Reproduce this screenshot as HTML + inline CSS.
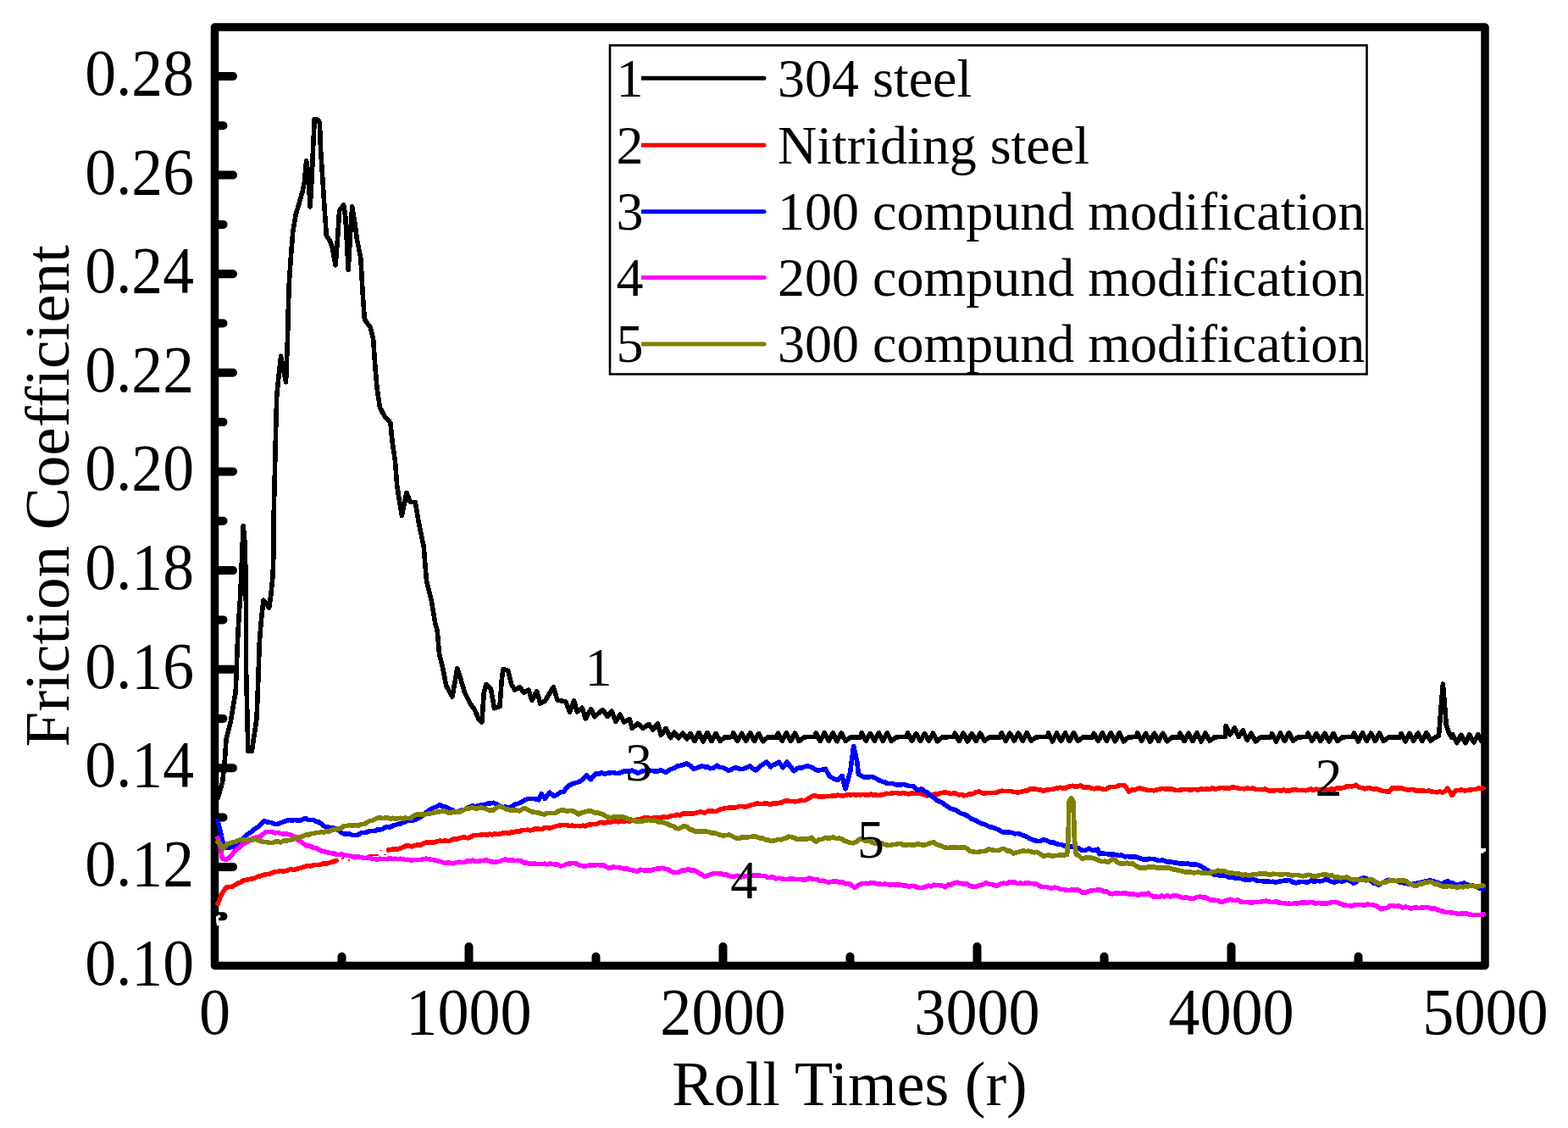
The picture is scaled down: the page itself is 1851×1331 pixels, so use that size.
<!DOCTYPE html>
<html><head><meta charset="utf-8"><title>Friction Coefficient vs Roll Times</title>
<style>html,body{margin:0;padding:0;background:#fff;} body{width:1851px;height:1331px;overflow:hidden;} svg{display:block;}</style>
</head><body>
<svg width="1851" height="1331" viewBox="0 0 1851 1331">
<rect x="0" y="0" width="1851" height="1331" fill="#fff"/>
<path d="M258.5,1022.9 H275 M258.5,906.3 H275 M258.5,789.7 H275 M258.5,673.1 H275 M258.5,556.4 H275 M258.5,439.8 H275 M258.5,323.2 H275 M258.5,206.6 H275 M258.5,90.0 H275 M258.5,1081.2 H263.5 M258.5,964.6 H263.5 M258.5,848.0 H263.5 M258.5,731.4 H263.5 M258.5,614.7 H263.5 M258.5,498.1 H263.5 M258.5,381.5 H263.5 M258.5,264.9 H263.5 M258.5,148.3 H263.5 M553.5,1134.5 V1117 M853.5,1134.5 V1117 M1153.5,1134.5 V1117 M1453.5,1134.5 V1117 M403.5,1134.5 V1128.8 M703.5,1134.5 V1128.8 M1003.5,1134.5 V1128.8 M1303.5,1134.5 V1128.8 M1603.5,1134.5 V1128.8" stroke="#000" stroke-width="10" stroke-linecap="round" fill="none"/>
<rect x="253.5" y="32" width="1499.5" height="1107.5" fill="none" stroke="#000" stroke-width="9.5" stroke-linejoin="round"/>
<g style="font-family:'Liberation Serif','Times New Roman',serif;font-size:75px" fill="#000"><text transform="translate(229,1161.5) scale(0.982,1.055)" text-anchor="end">0.10</text><text transform="translate(229,1044.9) scale(0.982,1.055)" text-anchor="end">0.12</text><text transform="translate(229,928.3) scale(0.982,1.055)" text-anchor="end">0.14</text><text transform="translate(229,811.7) scale(0.982,1.055)" text-anchor="end">0.16</text><text transform="translate(229,695.1) scale(0.982,1.055)" text-anchor="end">0.18</text><text transform="translate(229,578.4) scale(0.982,1.055)" text-anchor="end">0.20</text><text transform="translate(229,461.8) scale(0.982,1.055)" text-anchor="end">0.22</text><text transform="translate(229,345.2) scale(0.982,1.055)" text-anchor="end">0.24</text><text transform="translate(229,228.6) scale(0.982,1.055)" text-anchor="end">0.26</text><text transform="translate(229,112.0) scale(0.982,1.055)" text-anchor="end">0.28</text><text transform="translate(253.5,1219.8) scale(0.99,1.045)" text-anchor="middle">0</text><text transform="translate(553.5,1219.8) scale(0.99,1.045)" text-anchor="middle">1000</text><text transform="translate(853.5,1219.8) scale(0.99,1.045)" text-anchor="middle">2000</text><text transform="translate(1153.5,1219.8) scale(0.99,1.045)" text-anchor="middle">3000</text><text transform="translate(1453.5,1219.8) scale(0.99,1.045)" text-anchor="middle">4000</text><text transform="translate(1753.5,1219.8) scale(0.99,1.045)" text-anchor="middle">5000</text></g>
<text x="1003" y="1304.2" text-anchor="middle" style="font-family:'Liberation Serif','Times New Roman',serif;font-size:74px">Roll Times (r)</text>
<text transform="translate(81,585.3) rotate(-90)" x="0" y="0" text-anchor="middle" style="font-family:'Liberation Serif','Times New Roman',serif;font-size:75px">Friction Coefficient</text>
<path d="M257.2,941.2 L262.6,923.1 L265.0,902.0 L267.0,873.0 L272.5,850.2 L275.9,829.9 L278.2,816.4 L279.3,787.0 L280.4,757.8 L281.6,735.2 L283.8,701.4 L285.6,656.3 L287.2,620.3 L289.4,645.0 L290.1,690.2 L290.6,735.2 L290.6,791.6 L291.7,836.6 L292.8,886.2 L297.3,886.2 L303.0,847.9 L304.8,802.8 L306.3,757.8 L308.1,735.2 L310.9,708.2 L313.1,710.4 L317.6,717.2 L319.9,701.4 L322.1,678.9 L323.2,645.0 L323.3,603.0 L324.4,557.8 L325.5,512.7 L326.7,467.6 L328.9,445.1 L331.6,420.3 L337.5,450.7 L339.5,400.0 L340.2,368.0 L341.3,334.2 L343.6,300.4 L345.8,273.3 L349.2,253.0 L352.6,241.8 L357.1,226.0 L359.4,214.7 L361.6,189.9 L363.9,205.7 L366.1,244.0 L368.4,205.7 L369.5,176.4 L371.3,140.3 L375.1,141.4 L377.4,144.8 L378.5,176.4 L380.8,210.2 L383.0,244.0 L385.3,277.8 L389.8,284.6 L392.0,291.4 L396.1,312.8 L398.8,277.8 L400.6,248.5 L405.6,241.8 L407.8,255.3 L411.2,318.4 L413.5,277.8 L415.7,244.0 L419.1,264.3 L421.4,282.3 L425.9,304.9 L428.1,345.5 L430.4,377.0 L437.1,386.0 L440.6,399.9 L442.8,431.4 L445.1,458.5 L448.5,481.0 L454.1,491.1 L460.9,499.0 L463.1,521.6 L466.5,544.1 L468.7,573.4 L474.4,608.3 L480.0,581.3 L484.5,592.6 L490.2,592.6 L494.7,618.5 L497.5,632.0 L500.2,645.0 L503.5,685.6 L509.2,708.2 L513.7,735.2 L516.2,744.3 L518.6,771.9 L522.7,788.1 L526.7,809.1 L534.0,822.1 L539.7,788.9 L543.8,801.0 L548.6,817.2 L555.1,830.2 L560.8,838.3 L564.8,848.0 L568.9,852.1 L571.3,817.2 L573.7,807.5 L579.4,812.4 L583.5,835.9 L590.0,833.5 L592.4,801.0 L594.0,789.7 L599.7,791.3 L603.7,807.5 L607.8,814.0 L613.5,810.8 L618.3,817.2 L624.0,814.0 L628.0,826.2 L633.7,815.6 L637.8,830.2 L643.4,827.0 L653.2,810.8 L658.0,826.2 L667.7,827.8 L672.6,839.9 L677.5,827.0 L681.5,839.9 L687.2,835.1 L691.2,848.0 L697.7,836.7 L701.8,845.6 L711.5,837.5 L717.2,845.6 L722.0,839.1 L726.9,851.3 L731.8,843.2 L736.6,852.1 L743.1,848.8 L746.4,859.4 L752.8,853.7 L759.3,859.4 L765.8,854.5 L770.7,861.0 L776.3,853.7 L780.4,867.5 L786.1,859.4 L791.7,870.7 L796.0,864.0 L801.0,871.0 L806.0,865.0 L811.0,872.0 L815.0,865.5 L820.0,874.4 L825.0,864.6 L830.0,874.8 L835.0,864.7 L840.0,874.6 L845.0,865.5 L850.0,874.2 L856.0,869.8 L864.6,869.7 L865.6,864.7 L870.6,874.4 L875.6,865.4 L880.6,874.1 L885.6,864.8 L890.6,874.6 L895.6,865.5 L900.6,874.6 L906.6,869.8 L917.4,870.3 L918.4,865.2 L923.4,874.1 L928.4,865.0 L933.4,874.5 L938.4,865.2 L943.4,874.6 L949.4,869.8 L962.2,869.4 L963.2,865.0 L968.2,874.5 L973.2,864.7 L978.2,874.1 L983.2,864.8 L988.2,874.7 L993.2,865.0 L998.2,874.3 L1004.2,869.8 L1016.3,869.8 L1017.3,864.8 L1022.3,874.2 L1027.3,865.4 L1032.3,874.1 L1037.3,864.9 L1042.3,874.5 L1047.3,864.9 L1052.3,874.4 L1058.3,869.8 L1070.5,869.4 L1071.5,864.8 L1076.5,874.3 L1081.5,865.5 L1086.5,874.4 L1091.5,865.6 L1096.5,874.1 L1101.5,865.2 L1106.5,874.8 L1112.5,869.8 L1126.2,869.6 L1127.2,865.2 L1132.2,874.6 L1137.2,865.1 L1142.2,874.8 L1147.2,865.5 L1152.2,874.5 L1157.2,865.3 L1162.2,874.1 L1168.2,869.8 L1181.2,869.9 L1182.2,864.9 L1187.2,874.4 L1192.2,865.3 L1197.2,874.0 L1202.2,865.1 L1207.2,874.2 L1212.2,864.7 L1217.2,874.1 L1223.2,869.8 L1236.5,869.4 L1237.5,865.0 L1242.5,874.9 L1247.5,865.1 L1252.5,874.2 L1257.5,865.0 L1262.5,874.3 L1267.5,864.7 L1272.5,874.4 L1278.5,869.8 L1290.4,870.0 L1291.4,865.3 L1296.4,874.4 L1301.4,864.8 L1306.4,874.1 L1311.4,864.8 L1316.4,874.7 L1321.4,864.6 L1326.4,874.8 L1332.4,869.8 L1341.7,869.6 L1342.7,865.0 L1347.7,874.4 L1352.7,865.2 L1357.7,875.0 L1362.7,865.3 L1367.7,874.5 L1372.7,865.2 L1377.7,874.7 L1383.7,869.8 L1392.0,870.2 L1393.0,865.0 L1398.0,874.4 L1403.0,865.1 L1408.0,874.4 L1413.0,864.8 L1418.0,875.0 L1423.0,865.0 L1428.0,874.1 L1434.0,869.8 L1446.2,869.4 L1447.2,856.3 L1452.2,866.9 L1457.2,858.9 L1462.2,869.4 L1467.2,861.9 L1472.2,873.1 L1477.2,865.2 L1482.2,875.0 L1488.2,869.8 L1500.5,869.8 L1501.5,865.4 L1506.5,875.0 L1511.5,865.1 L1516.5,874.5 L1521.5,864.7 L1526.5,874.1 L1532.5,869.8 L1542.9,869.6 L1543.9,865.1 L1548.9,874.2 L1553.9,865.6 L1558.9,874.4 L1563.9,865.3 L1568.9,874.9 L1573.9,865.4 L1578.9,874.3 L1584.9,869.8 L1597.4,869.4 L1598.4,865.1 L1603.4,874.9 L1608.4,865.0 L1613.4,874.2 L1618.4,865.1 L1623.4,874.5 L1628.4,865.2 L1633.4,874.6 L1639.4,869.8 L1652.9,870.1 L1653.9,865.4 L1658.9,874.8 L1663.9,865.3 L1668.9,874.2 L1673.9,865.1 L1678.9,874.4 L1683.9,864.6 L1688.9,874.0 L1694.9,869.8 L1698.5,868.0 L1701.5,830.0 L1703.4,807.0 L1705.3,830.0 L1707.3,855.8 L1711.0,866.0 L1714.0,870.5 L1714.8,866.7 L1719.8,876.6 L1724.8,867.3 L1729.8,876.7 L1734.8,866.7 L1739.8,875.9 L1744.8,866.5 L1749.8,875.9 L1750.0,869.5" stroke="#000" stroke-width="5.6" fill="none" stroke-linejoin="round" stroke-linecap="round" shape-rendering="crispEdges"/>
<path d="M256.9,1066.6 L261.6,1055.1 L267.0,1047.0 L270.4,1046.6 L273.8,1046.4 L277.1,1044.5 L280.5,1042.3 L283.9,1041.4 L287.3,1038.9 L290.7,1038.2 L294.1,1037.6 L297.4,1037.0 L300.8,1036.2 L304.4,1034.2 L308.0,1033.6 L311.6,1032.2 L315.1,1031.6 L318.7,1031.1 L322.2,1029.6 L325.2,1028.3 L328.2,1028.3 L331.2,1027.4 L334.2,1028.4 L337.2,1027.7 L340.2,1026.8 L343.2,1025.3 L346.2,1026.6 L349.2,1025.9 L352.2,1024.7 L355.2,1024.0 L358.2,1023.2 L361.2,1022.1 L364.2,1021.4 L367.2,1022.0 L370.3,1020.6 L373.3,1020.4 L376.3,1020.6 L379.5,1019.6 L382.8,1018.6 L386.0,1019.0 L390.1,1017.7 L394.3,1016.5 L397.5,1015.5 M458.5,1003.0 L461.8,1002.3 L465.0,1002.0 L468.5,1002.2 L472.0,1001.2 L475.5,999.8 L479.1,998.2 L482.8,998.1 L486.4,998.9 L490.0,997.5 L493.2,996.8 L496.5,997.2 L499.7,995.4 L503.0,994.1 L506.2,994.3 L509.4,994.2 L512.7,994.2 L515.9,992.8 L519.2,992.1 L522.4,992.6 L525.6,991.8 L528.9,992.6 L532.1,991.7 L535.4,989.9 L538.6,990.2 L541.8,989.2 L545.1,988.4 L548.3,987.9 L551.6,988.9 L554.8,987.8 L558.8,985.9 L562.9,985.3 L565.9,985.3 L569.0,985.0 L572.0,984.4 L575.0,985.4 L578.1,984.1 L581.1,985.0 L584.2,983.8 L587.2,984.5 L590.5,983.9 L593.7,983.0 L597.0,982.6 L600.2,983.5 L603.5,982.1 L606.7,982.2 L610.0,980.7 L613.2,981.4 L616.5,979.6 L619.7,979.7 L622.9,979.2 L626.2,979.8 L629.4,979.0 L632.7,977.6 L635.9,978.1 L639.1,978.7 L642.4,976.8 L645.6,976.6 L648.9,977.3 L652.1,976.4 L656.2,974.9 L660.2,974.0 L663.2,973.7 L666.3,973.3 L669.3,973.5 L672.4,974.6 L675.4,974.0 L678.4,974.8 L681.5,974.4 L684.5,974.8 L687.7,974.2 L691.0,974.8 L694.2,973.3 L697.5,973.0 L700.7,972.4 L703.9,972.7 L707.2,970.8 L710.4,970.3 L713.7,971.3 L716.9,970.0 L720.1,970.5 L723.4,969.1 L726.6,968.8 L729.9,969.8 L733.1,969.1 L736.3,969.7 L739.6,967.9 L742.8,969.0 L746.1,968.6 L749.3,967.5 L752.5,967.2 L755.8,966.4 L759.0,965.3 L762.3,964.7 L765.5,965.1 L769.1,966.0 L772.8,964.4 L776.4,965.3 L780.0,964.8 L783.2,963.8 L786.5,964.5 L789.7,963.6 L793.0,962.5 L796.2,962.4 L799.4,961.3 L802.7,961.9 L805.9,960.1 L809.2,959.9 L812.4,960.0 L815.6,959.8 L818.9,960.0 L822.1,959.2 L825.4,958.2 L828.6,958.3 L831.8,959.0 L835.1,957.4 L838.3,956.9 L841.6,957.2 L844.8,957.5 L849.7,955.1 L852.9,954.6 L856.2,953.4 L859.4,953.3 L862.6,953.2 L865.9,953.2 L869.1,952.7 L872.3,951.5 L875.6,951.4 L878.8,952.0 L882.1,951.7 L885.3,950.2 L889.4,949.3 L893.5,947.8 L896.7,948.5 L900.0,948.6 L903.2,948.0 L906.5,948.2 L909.7,949.4 L912.9,947.6 L916.2,948.6 L919.4,947.4 L922.7,947.1 L925.9,945.4 L929.1,944.4 L932.4,945.7 L935.6,945.4 L938.9,945.9 L942.1,945.4 L945.9,944.2 L949.6,944.7 L953.4,942.9 L958.3,939.7 L961.3,938.8 L964.4,939.6 L967.4,939.9 L970.5,940.1 L973.5,939.7 L976.5,939.5 L979.6,939.6 L982.6,938.9 L985.6,939.5 L988.7,938.2 L991.7,938.7 L994.8,938.9 L997.8,938.6 L1000.8,937.5 L1003.9,938.1 L1006.9,937.3 L1009.9,938.1 L1013.0,937.6 L1016.0,937.8 L1019.0,937.5 L1022.1,938.0 L1025.1,938.1 L1028.2,937.2 L1031.2,938.1 L1034.2,938.1 L1037.3,938.5 L1040.3,937.9 L1043.3,937.3 L1046.4,936.3 L1049.4,936.7 L1052.5,936.1 L1055.5,935.6 L1059.1,935.7 L1062.8,936.7 L1066.4,935.4 L1070.0,936.5 L1073.2,937.0 L1076.5,935.6 L1079.7,936.7 L1083.0,936.5 L1086.2,936.5 L1090.2,937.2 L1094.3,938.9 L1097.5,938.6 L1100.8,937.6 L1104.0,937.1 L1107.3,937.1 L1110.5,935.6 L1113.5,935.3 L1116.6,935.0 L1119.6,935.8 L1122.7,936.8 L1125.7,936.1 L1128.7,936.2 L1131.8,937.9 L1134.8,937.3 L1138.1,938.9 L1141.7,938.2 L1145.2,936.8 L1148.8,936.7 L1152.3,934.6 L1155.9,934.0 L1159.2,935.6 L1162.4,936.5 L1165.4,935.4 L1168.4,935.4 L1171.4,935.7 L1174.5,935.4 L1177.5,934.9 L1180.5,933.4 L1183.5,933.2 L1186.7,933.7 L1190.0,933.5 L1193.2,933.4 L1196.5,934.5 L1199.7,934.8 L1202.9,934.8 L1206.2,934.2 L1209.4,933.2 L1212.6,933.0 L1215.9,931.0 L1219.1,930.8 L1222.3,930.7 L1225.6,931.9 L1228.8,932.2 L1232.1,933.2 L1235.3,932.0 L1238.6,931.7 L1241.8,931.5 L1245.1,930.6 L1248.3,930.0 L1251.3,929.3 L1254.4,930.1 L1257.4,930.0 L1260.4,928.7 L1263.5,927.6 L1266.5,927.2 L1269.6,928.6 L1272.6,927.5 L1275.8,927.1 L1279.1,928.9 L1282.3,929.1 L1285.6,929.1 L1288.8,930.0 L1292.0,930.9 L1295.3,929.7 L1298.5,930.2 L1301.8,931.2 L1305.0,931.6 L1309.0,929.0 L1313.1,928.3 L1316.8,928.6 L1320.4,927.0 L1324.0,926.4 L1327.7,926.7 L1332.6,934.0 L1335.8,932.1 L1339.0,932.3 L1342.3,930.9 L1345.5,930.0 L1348.8,930.9 L1352.0,931.5 L1355.2,932.4 L1358.5,932.4 L1362.3,932.8 L1366.2,931.7 L1370.0,930.8 L1373.2,930.4 L1376.4,931.2 L1379.6,930.8 L1382.8,930.7 L1386.0,931.9 L1389.2,932.6 L1392.4,932.4 L1395.6,931.6 L1398.9,931.6 L1402.1,931.6 L1405.4,932.2 L1408.6,931.6 L1411.8,931.7 L1415.1,931.8 L1418.3,930.9 L1421.6,931.5 L1424.8,930.8 L1428.0,931.5 L1431.3,929.7 L1434.5,931.2 L1437.8,930.6 L1441.0,929.3 L1444.2,929.7 L1447.5,929.9 L1450.7,930.3 L1454.0,929.1 L1457.2,929.2 L1460.2,929.5 L1463.3,930.4 L1466.3,930.4 L1469.4,930.9 L1472.4,930.1 L1475.5,930.7 L1478.5,930.0 L1481.6,931.2 L1484.6,931.6 L1487.6,931.5 L1490.7,931.8 L1493.7,931.0 L1496.8,932.6 L1499.8,933.0 L1502.9,933.2 L1505.9,932.4 L1509.1,932.5 L1512.4,933.0 L1515.6,932.0 L1518.9,933.2 L1522.1,933.1 L1525.3,932.1 L1528.6,931.6 L1531.8,932.3 L1535.1,932.5 L1538.3,932.4 L1541.4,932.8 L1544.5,932.1 L1547.6,931.1 L1550.7,932.6 L1553.8,931.0 L1556.9,932.3 L1560.0,931.6 L1563.0,930.9 L1566.0,931.3 L1569.0,932.2 L1572.0,930.9 L1575.0,931.6 L1578.0,930.1 L1581.0,930.1 L1584.0,929.8 L1587.0,929.2 L1590.0,927.8 L1593.5,927.7 L1597.1,927.7 L1600.6,926.3 L1605.1,929.3 L1608.3,929.6 L1611.5,930.9 L1614.7,929.5 L1618.0,930.1 L1621.2,931.0 L1624.4,930.9 L1627.6,931.6 L1630.6,932.8 L1633.6,933.4 L1636.6,933.9 L1639.6,934.6 L1644.1,929.3 L1647.1,930.3 L1650.1,930.1 L1653.1,929.9 L1656.2,930.4 L1659.2,931.6 L1662.2,932.1 L1665.2,931.6 L1668.2,931.3 L1671.2,932.9 L1674.2,933.4 L1677.2,932.8 L1680.2,933.1 L1683.4,933.6 L1686.6,933.1 L1689.8,934.1 L1693.1,934.4 L1696.3,934.9 L1699.5,934.0 L1702.7,935.3 L1705.8,933.6 L1708.8,930.1 L1714.0,938.3 L1719.3,932.3 L1722.7,932.3 L1726.0,932.1 L1729.4,932.9 L1732.8,932.3 L1735.9,932.1 L1738.9,931.5 L1742.0,931.6 L1745.1,930.0 L1748.1,930.5 L1751.2,930.1" stroke="#f00" stroke-width="5.6" fill="none" stroke-linejoin="round" stroke-linecap="round" shape-rendering="crispEdges"/>
<path d="M256.9,968.6 L260.0,980.0 L264.3,999.7 L267.7,1000.0 L271.1,1000.4 L274.2,999.1 L277.4,997.6 L280.5,995.7 L283.9,991.6 L287.3,988.9 L290.5,985.5 L293.6,983.7 L296.8,981.5 L300.9,978.0 L304.9,975.4 L308.2,972.6 L311.6,968.6 L315.8,970.0 L320.0,970.7 L325.8,972.7 L328.9,971.8 L332.1,970.6 L335.2,969.6 L338.4,968.2 L341.5,967.5 L344.7,968.1 L347.9,967.5 L351.0,968.2 L354.6,968.1 L358.2,966.4 L361.2,965.8 L364.2,967.6 L367.2,967.3 L370.2,967.3 L373.3,969.5 L376.3,970.0 L379.9,972.4 L383.5,975.4 L387.1,975.8 L390.7,977.3 L394.3,977.2 L397.3,978.1 L400.3,980.0 L403.3,982.7 L406.4,984.2 L409.6,984.1 L412.8,983.9 L415.9,985.4 L419.5,985.7 L423.1,984.9 L426.8,982.6 L430.4,982.7 L433.4,981.9 L436.4,980.7 L439.4,980.5 L442.4,980.5 L445.4,978.9 L448.4,979.0 L451.4,978.5 L454.4,976.3 L457.4,975.6 L460.5,976.0 L463.5,974.3 L466.5,973.6 L469.5,972.5 L472.5,972.0 L475.5,970.9 L478.5,969.8 L481.5,968.2 L484.5,968.2 L490.0,967.5 L493.2,965.7 L496.5,963.9 L499.7,961.7 L503.0,958.8 L506.2,956.2 L509.4,954.3 L512.7,952.7 L516.0,951.7 L519.2,949.7 L523.0,951.7 L526.7,952.2 L530.5,954.6 L534.5,956.1 L538.6,958.6 L541.8,957.0 L545.1,956.0 L548.3,955.3 L551.6,953.4 L554.8,952.1 L558.0,950.7 L561.3,951.8 L564.5,950.5 L567.8,950.2 L571.0,949.7 L574.8,948.3 L578.6,948.0 L582.4,947.3 L586.5,949.1 L590.5,951.3 L593.7,952.6 L597.0,952.1 L600.2,953.7 L604.0,951.9 L607.8,949.3 L611.6,948.1 L615.7,946.4 L619.7,944.0 L622.9,942.5 L626.2,942.5 L629.4,942.4 L632.6,942.9 L635.9,944.0 L639.1,936.7 L643.2,942.4 L648.8,935.1 L653.7,939.2 L657.5,937.8 L661.2,935.0 L665.0,934.3 L668.2,930.6 L671.5,927.0 L674.8,925.2 L678.0,924.1 L681.2,923.3 L684.5,922.1 L688.5,919.4 L692.6,914.8 L697.5,919.7 L700.7,916.0 L703.9,912.4 L707.1,913.3 L710.4,911.7 L713.6,913.2 L716.9,912.4 L720.1,912.0 L723.4,911.5 L726.6,912.4 L729.9,912.6 L733.1,911.6 L736.4,910.0 L739.6,909.9 L742.9,910.3 L746.1,909.2 L749.4,910.5 L752.6,912.4 L755.8,911.1 L759.0,909.8 L762.3,909.1 L765.5,909.2 L769.1,909.4 L772.8,910.0 L776.4,910.0 L780.0,908.9 L783.2,910.1 L786.5,911.3 L789.7,908.5 L793.0,907.3 L796.2,906.4 L799.4,904.0 L803.2,903.6 L807.0,902.1 L810.8,900.8 L814.8,903.5 L818.9,907.3 L822.1,906.3 L825.4,905.1 L828.6,904.0 L831.9,904.9 L835.1,904.8 L838.4,906.8 L841.6,906.5 L846.5,903.2 L849.7,905.4 L853.0,905.4 L856.2,907.1 L859.4,908.9 L862.6,908.6 L865.9,906.3 L869.1,905.7 L873.2,907.4 L877.2,907.3 L881.2,905.7 L885.3,904.0 L888.5,906.8 L891.8,908.9 L895.0,906.9 L898.3,903.5 L901.5,901.2 L904.8,899.2 L909.7,904.8 L912.9,902.4 L916.2,901.4 L919.4,899.2 L924.2,905.7 L929.1,899.2 L933.2,904.8 L937.2,909.7 L940.5,907.0 L943.7,905.7 L946.9,905.9 L950.2,904.4 L953.4,904.0 L956.6,904.7 L959.9,906.3 L963.1,908.6 L966.4,908.9 L970.5,908.2 L974.5,907.3 L979.4,916.2 L982.6,917.8 L985.9,919.7 L989.1,920.2 L993.9,915.4 L998.0,930.8 L1003.7,910.5 L1007.7,880.5 L1011.8,899.2 L1013.4,913.8 L1018.2,916.2 L1021.5,917.3 L1024.7,917.1 L1028.0,916.6 L1031.2,917.0 L1034.4,918.6 L1037.7,920.7 L1040.9,922.0 L1044.2,923.0 L1047.4,924.3 L1050.6,924.3 L1053.9,924.7 L1057.1,925.7 L1060.4,925.7 L1063.6,925.9 L1066.8,925.3 L1070.0,926.7 L1074.0,927.5 L1078.1,927.5 L1083.0,932.4 L1087.8,930.8 L1091.0,933.6 L1094.3,934.8 L1098.3,938.6 L1102.4,941.3 L1105.6,944.0 L1108.9,945.9 L1112.1,947.0 L1115.3,949.5 L1118.6,951.8 L1121.8,954.0 L1125.1,954.8 L1128.3,955.9 L1131.6,958.1 L1134.8,960.0 L1138.8,961.2 L1142.9,963.2 L1146.1,965.8 L1149.4,967.1 L1152.6,968.6 L1155.9,970.6 L1159.1,972.1 L1162.3,972.5 L1165.6,974.4 L1168.8,975.9 L1172.1,976.4 L1175.3,977.8 L1179.4,979.3 L1183.5,981.8 L1187.3,981.9 L1191.0,982.0 L1194.8,982.6 L1198.0,983.8 L1201.3,983.5 L1204.5,984.3 L1207.8,985.9 L1211.0,986.8 L1214.3,988.9 L1217.5,990.3 L1220.8,991.4 L1224.0,992.4 L1228.0,992.4 L1232.1,990.7 L1236.2,992.1 L1240.2,994.0 L1243.4,993.9 L1246.7,995.6 L1249.9,996.3 L1253.2,996.6 L1256.4,998.0 L1259.6,998.8 L1262.9,998.7 L1266.1,999.0 L1269.4,999.7 L1272.6,1000.5 L1276.7,1003.0 L1280.7,1003.7 L1285.6,1001.3 L1290.4,1003.7 L1296.1,1002.1 L1297.7,1007.8 L1301.2,1006.8 L1304.7,1007.5 L1308.2,1007.8 L1311.5,1007.8 L1314.7,1008.0 L1318.0,1008.9 L1321.2,1009.4 L1324.4,1009.2 L1327.7,1010.9 L1330.9,1010.4 L1334.2,1011.1 L1337.4,1011.0 L1340.6,1011.0 L1343.9,1012.2 L1347.1,1013.1 L1350.4,1014.2 L1353.6,1014.2 L1356.8,1013.3 L1360.0,1013.4 L1363.0,1013.8 L1366.1,1015.1 L1369.1,1015.6 L1372.2,1014.9 L1375.2,1016.0 L1378.2,1017.0 L1381.3,1016.8 L1384.3,1017.5 L1387.3,1018.1 L1390.4,1018.4 L1393.4,1019.3 L1396.4,1018.8 L1399.5,1019.4 L1402.5,1019.0 L1405.6,1020.1 L1408.6,1019.9 L1412.7,1020.3 L1416.7,1021.5 L1419.9,1023.6 L1423.2,1025.5 L1426.4,1027.5 L1429.7,1029.3 L1432.9,1032.1 L1436.1,1032.0 L1439.4,1033.1 L1442.6,1033.0 L1445.9,1033.1 L1449.1,1034.5 L1452.1,1035.5 L1455.2,1034.9 L1458.2,1036.6 L1461.3,1036.3 L1464.3,1036.3 L1467.4,1037.6 L1470.5,1038.1 L1473.5,1037.7 L1476.7,1037.7 L1480.0,1037.6 L1483.2,1039.0 L1486.5,1039.7 L1489.7,1039.6 L1492.9,1040.2 L1496.2,1039.8 L1499.4,1040.6 L1502.7,1040.2 L1505.9,1041.0 L1509.1,1040.3 L1512.4,1039.8 L1515.6,1039.3 L1518.9,1038.9 L1522.1,1038.6 L1526.2,1040.8 L1530.2,1041.8 L1533.2,1040.8 L1536.3,1040.6 L1539.3,1040.4 L1542.3,1041.5 L1545.4,1040.3 L1548.4,1039.1 L1551.5,1040.4 L1554.5,1039.4 L1557.8,1039.8 L1561.0,1039.4 L1564.2,1038.2 L1567.5,1038.2 L1571.2,1040.2 L1575.0,1041.2 L1578.0,1040.2 L1581.0,1039.3 L1584.0,1040.1 L1587.0,1039.5 L1590.0,1038.2 L1593.8,1039.5 L1597.6,1042.0 L1600.6,1041.3 L1603.6,1038.0 L1606.6,1037.1 L1609.6,1036.0 L1612.6,1036.4 L1615.6,1038.1 L1618.6,1039.5 L1621.6,1042.0 L1624.6,1042.5 L1627.6,1044.3 L1630.6,1042.2 L1633.6,1040.6 L1636.6,1039.3 L1639.6,1038.2 L1642.8,1039.6 L1646.0,1039.7 L1649.2,1039.4 L1652.4,1041.2 L1655.6,1041.6 L1658.8,1042.1 L1662.0,1042.9 L1665.2,1043.5 L1668.4,1043.2 L1671.6,1042.8 L1674.8,1041.6 L1678.1,1041.2 L1681.3,1040.2 L1684.5,1039.9 L1687.7,1039.0 L1690.7,1039.5 L1693.7,1040.3 L1696.7,1041.3 L1699.7,1042.4 L1702.7,1042.7 L1705.8,1040.8 L1708.8,1039.7 L1711.8,1041.8 L1714.8,1042.2 L1717.8,1043.5 L1721.3,1043.7 L1724.8,1042.9 L1728.3,1042.0 L1731.6,1043.9 L1734.8,1044.4 L1738.1,1044.9 L1741.4,1045.9 L1744.7,1047.4 L1747.9,1048.7 L1751.2,1049.2" stroke="#00f" stroke-width="5.6" fill="none" stroke-linejoin="round" stroke-linecap="round" shape-rendering="crispEdges"/>
<path d="M256.9,988.9 L259.6,995.7 L262.3,1013.2 L267.0,1014.6 L272.4,1010.5 L275.8,1006.0 L279.2,1002.4 L283.2,999.4 L287.3,995.7 L290.5,994.3 L293.6,992.8 L296.8,990.3 L300.4,988.5 L304.0,987.5 L307.6,986.9 L313.0,982.2 L316.1,981.4 L319.1,981.4 L322.2,981.8 L325.2,982.9 L328.2,982.3 L331.2,983.6 L334.4,984.1 L337.5,983.9 L340.6,984.5 L343.8,985.4 L347.4,987.7 L351.0,990.9 L354.6,992.6 L358.2,995.5 L361.8,998.0 L365.4,998.2 L369.1,999.8 L372.7,1000.7 L376.3,1002.5 L379.3,1004.0 L382.3,1004.6 L385.3,1005.4 L388.3,1006.2 L391.3,1006.7 L394.3,1007.0 L397.3,1008.3 L400.3,1008.5 L403.3,1007.9 L406.3,1009.5 L409.3,1009.2 L412.3,1009.7 L415.3,1010.7 L418.3,1010.7 L421.4,1010.9 L424.4,1011.2 L427.4,1011.8 L430.4,1012.4 L433.4,1012.2 L436.4,1011.9 L439.4,1013.5 L442.4,1013.6 L445.4,1014.1 L448.4,1013.3 L451.4,1013.7 L454.4,1013.4 L457.4,1013.8 L460.5,1012.6 L463.5,1013.7 L466.5,1013.3 L469.5,1013.5 L472.5,1013.3 L475.5,1013.6 L478.5,1014.5 L481.5,1014.3 L484.5,1015.1 L490.0,1014.5 L493.2,1014.3 L496.5,1014.4 L499.7,1013.8 L503.0,1013.1 L506.2,1013.7 L509.4,1014.5 L512.7,1014.8 L516.0,1015.6 L519.2,1016.4 L522.5,1017.5 L525.7,1018.6 L528.9,1017.5 L532.2,1018.5 L535.4,1018.9 L538.6,1017.8 L541.8,1017.2 L545.1,1017.6 L548.3,1017.6 L551.6,1015.5 L554.8,1016.1 L558.0,1015.2 L561.3,1016.4 L564.5,1016.3 L567.8,1015.7 L571.0,1015.3 L574.2,1014.9 L577.5,1015.8 L580.7,1017.0 L584.0,1017.4 L587.2,1016.9 L590.5,1016.3 L593.7,1014.5 L597.3,1014.1 L600.9,1015.5 L604.4,1014.7 L608.0,1015.6 L611.6,1015.3 L614.8,1015.4 L618.1,1017.9 L621.3,1018.0 L624.6,1019.0 L627.8,1019.4 L630.8,1018.8 L633.9,1019.6 L636.9,1019.6 L640.0,1019.6 L643.0,1019.1 L646.0,1019.9 L649.1,1019.1 L652.1,1019.4 L655.3,1019.8 L658.6,1020.3 L661.8,1021.8 L665.4,1021.4 L669.1,1019.4 L672.8,1018.9 L676.4,1018.6 L680.2,1018.8 L683.9,1021.0 L687.7,1021.8 L690.7,1021.8 L693.7,1021.7 L696.7,1020.5 L699.8,1021.2 L702.8,1020.9 L705.8,1020.3 L708.8,1021.0 L712.8,1021.2 L716.9,1023.4 L720.1,1024.6 L723.4,1023.0 L726.6,1023.5 L729.9,1023.6 L733.1,1024.2 L736.3,1025.1 L739.6,1024.7 L742.8,1026.1 L746.1,1026.6 L749.3,1027.5 L752.5,1028.0 L755.8,1026.2 L759.0,1026.7 L762.3,1026.9 L765.5,1026.7 L768.7,1027.1 L772.0,1025.7 L775.2,1025.1 L778.5,1025.0 L781.7,1024.2 L785.3,1025.1 L789.0,1026.0 L792.6,1028.3 L796.2,1029.6 L799.4,1029.6 L802.7,1028.5 L805.9,1026.7 L809.2,1026.8 L812.4,1025.6 L815.6,1027.1 L818.9,1026.7 L822.1,1028.0 L825.4,1030.3 L828.6,1032.0 L831.9,1034.5 L835.1,1033.0 L838.3,1032.1 L841.6,1030.9 L844.8,1030.5 L848.0,1030.8 L851.3,1030.9 L854.5,1032.2 L857.8,1032.2 L861.0,1033.7 L864.2,1034.4 L867.5,1034.2 L870.7,1033.2 L874.0,1034.9 L877.2,1034.5 L880.5,1033.6 L883.7,1033.8 L887.0,1033.6 L890.2,1032.9 L893.5,1032.9 L896.7,1033.0 L900.0,1033.7 L903.2,1033.6 L906.5,1035.5 L909.7,1035.3 L912.9,1035.0 L916.2,1036.9 L919.4,1036.2 L922.7,1036.8 L925.9,1037.7 L929.1,1037.5 L932.4,1036.8 L935.6,1037.0 L938.9,1037.4 L942.1,1037.7 L945.3,1037.4 L948.6,1038.1 L951.8,1038.2 L955.1,1036.1 L958.3,1036.9 L961.5,1037.6 L964.8,1037.5 L968.0,1039.5 L971.3,1039.2 L974.5,1040.2 L977.7,1041.1 L981.0,1040.6 L984.2,1039.9 L987.5,1039.8 L990.7,1041.0 L994.5,1041.0 L998.2,1042.8 L1002.0,1042.6 L1005.2,1044.3 L1008.5,1047.5 L1011.8,1045.4 L1015.0,1043.4 L1018.2,1042.7 L1021.5,1042.3 L1024.8,1042.8 L1028.0,1041.8 L1031.2,1041.5 L1034.5,1042.8 L1037.7,1042.9 L1040.9,1043.7 L1044.2,1043.2 L1047.4,1043.4 L1050.6,1044.4 L1053.9,1043.6 L1057.1,1044.0 L1060.4,1044.3 L1063.6,1044.2 L1066.8,1045.3 L1070.0,1045.0 L1073.2,1046.3 L1076.5,1045.2 L1079.7,1045.8 L1083.0,1047.1 L1086.2,1047.5 L1089.4,1047.5 L1092.7,1046.2 L1095.9,1045.1 L1099.2,1045.8 L1102.4,1044.2 L1105.7,1044.4 L1108.9,1044.6 L1112.2,1045.2 L1115.4,1046.7 L1119.2,1044.1 L1122.9,1043.9 L1126.7,1041.8 L1130.3,1041.2 L1134.0,1042.6 L1137.7,1043.1 L1141.3,1042.6 L1144.5,1045.0 L1147.8,1046.0 L1151.0,1046.7 L1154.2,1045.3 L1157.5,1044.5 L1160.8,1043.7 L1164.0,1041.8 L1167.8,1043.3 L1171.5,1043.5 L1175.3,1045.0 L1178.6,1044.7 L1181.8,1042.6 L1185.1,1042.2 L1188.3,1042.8 L1191.6,1041.0 L1194.8,1041.3 L1198.1,1041.2 L1201.3,1042.5 L1204.6,1042.2 L1207.8,1042.6 L1211.0,1041.8 L1214.3,1042.0 L1217.5,1042.6 L1220.8,1042.9 L1224.0,1043.4 L1228.0,1045.9 L1232.1,1046.7 L1235.3,1046.4 L1238.6,1047.7 L1241.8,1047.9 L1245.1,1047.2 L1248.3,1047.5 L1251.5,1049.3 L1254.8,1049.6 L1258.0,1049.9 L1261.2,1050.7 L1265.0,1050.0 L1268.8,1050.1 L1272.6,1049.9 L1277.5,1053.1 L1280.7,1053.4 L1284.0,1052.1 L1287.2,1050.9 L1290.4,1050.7 L1293.7,1050.4 L1296.9,1049.9 L1300.1,1050.3 L1303.4,1052.0 L1306.6,1051.9 L1309.9,1054.5 L1313.1,1054.8 L1316.3,1054.0 L1319.6,1053.7 L1322.8,1054.5 L1326.1,1053.8 L1329.3,1054.0 L1332.5,1055.1 L1335.8,1054.7 L1339.0,1055.1 L1342.3,1056.0 L1345.5,1055.7 L1348.8,1054.6 L1352.0,1055.1 L1355.3,1054.0 L1358.5,1056.3 L1361.7,1058.0 L1364.9,1057.7 L1368.2,1058.7 L1371.4,1056.7 L1374.6,1058.3 L1377.8,1056.7 L1381.1,1058.0 L1384.3,1057.2 L1387.3,1056.9 L1390.4,1057.1 L1393.4,1058.4 L1396.4,1059.7 L1399.5,1058.7 L1402.5,1059.6 L1405.6,1060.2 L1408.6,1060.4 L1412.7,1058.7 L1416.7,1058.0 L1419.7,1058.9 L1422.8,1058.6 L1425.8,1060.3 L1428.8,1061.8 L1431.9,1061.7 L1434.9,1062.3 L1438.0,1062.8 L1441.0,1064.5 L1444.8,1063.8 L1448.6,1062.2 L1452.4,1061.2 L1455.4,1062.5 L1458.4,1062.6 L1461.4,1061.8 L1464.5,1063.9 L1467.5,1064.4 L1470.5,1064.7 L1473.5,1064.5 L1476.5,1065.1 L1479.6,1064.7 L1482.6,1064.6 L1485.7,1064.4 L1488.7,1064.2 L1491.7,1063.4 L1494.8,1063.1 L1497.8,1063.7 L1500.8,1064.5 L1503.9,1064.5 L1506.9,1063.7 L1509.9,1065.2 L1513.0,1065.4 L1516.0,1065.5 L1519.1,1066.4 L1522.1,1066.1 L1525.1,1066.7 L1528.2,1065.5 L1531.2,1066.1 L1534.2,1065.3 L1537.3,1065.2 L1540.3,1064.7 L1543.4,1065.6 L1546.4,1064.5 L1549.8,1064.8 L1553.2,1066.2 L1556.6,1065.3 L1560.0,1066.0 L1563.0,1066.0 L1566.0,1066.2 L1569.0,1065.5 L1572.0,1064.6 L1575.0,1064.5 L1578.0,1064.4 L1581.0,1066.0 L1584.0,1066.6 L1587.0,1068.2 L1590.0,1068.3 L1593.0,1068.7 L1596.0,1069.0 L1599.1,1067.7 L1602.1,1067.5 L1605.1,1067.5 L1608.1,1067.8 L1611.1,1068.3 L1614.1,1067.1 L1617.1,1067.5 L1620.1,1067.5 L1623.1,1068.3 L1626.8,1070.2 L1630.6,1072.8 L1634.0,1071.3 L1637.3,1071.5 L1640.7,1068.8 L1644.1,1068.3 L1647.1,1069.7 L1650.1,1068.9 L1653.1,1069.3 L1656.2,1071.4 L1659.2,1070.1 L1662.2,1070.7 L1665.2,1072.0 L1668.4,1071.2 L1671.6,1070.9 L1674.8,1071.5 L1678.1,1071.0 L1681.3,1070.8 L1684.5,1070.4 L1687.7,1071.3 L1690.7,1072.5 L1693.7,1071.9 L1696.7,1073.0 L1699.7,1074.5 L1702.7,1075.1 L1705.9,1076.3 L1709.2,1076.3 L1712.4,1076.8 L1715.6,1077.2 L1718.8,1077.8 L1722.1,1078.4 L1725.3,1078.1 L1728.3,1077.7 L1731.3,1077.8 L1734.3,1079.2 L1737.3,1079.3 L1740.3,1079.6 L1743.9,1079.4 L1747.6,1079.6 L1751.2,1078.8" stroke="#f0f" stroke-width="5.6" fill="none" stroke-linejoin="round" stroke-linecap="round" shape-rendering="crispEdges"/>
<path d="M256.9,993.6 L260.2,996.6 L263.6,1001.1 L268.4,995.7 L271.4,995.1 L274.4,994.0 L277.5,993.5 L280.5,991.6 L283.9,991.0 L287.3,990.8 L290.7,991.5 L294.1,990.9 L297.2,991.2 L300.4,990.5 L303.5,990.9 L307.6,992.6 L311.6,993.6 L315.1,993.7 L318.7,994.7 L322.2,994.4 L325.2,993.2 L328.2,992.9 L331.2,993.9 L334.2,992.3 L337.2,991.7 L340.2,991.7 L343.2,991.4 L346.2,990.2 L349.2,988.3 L352.2,988.2 L355.2,987.5 L358.2,986.3 L361.2,985.0 L364.2,985.4 L367.2,983.7 L370.3,983.6 L373.3,982.5 L376.3,982.7 L379.3,981.5 L382.3,982.4 L385.3,980.7 L388.3,981.2 L391.3,979.5 L394.3,979.0 L397.3,978.3 L400.3,977.9 L403.3,976.7 L406.3,974.6 L409.3,974.7 L412.3,973.6 L415.9,974.2 L419.6,973.6 L423.2,974.5 L426.4,972.4 L429.7,972.7 L432.9,970.7 L436.2,968.8 L439.4,968.2 L442.4,966.9 L445.4,965.2 L448.4,964.6 L451.4,965.5 L454.4,965.2 L457.4,964.7 L460.5,966.4 L463.5,965.3 L466.5,966.4 L469.5,965.8 L472.5,965.2 L475.5,966.4 L478.5,965.0 L481.5,965.7 L484.5,965.5 L490.0,961.8 L493.2,960.7 L496.5,961.1 L499.7,961.2 L503.0,960.6 L506.2,960.2 L509.4,959.5 L512.7,958.9 L515.9,958.2 L519.2,957.8 L522.4,957.0 L526.5,957.4 L530.5,959.4 L533.7,958.7 L537.0,957.6 L540.2,958.2 L543.5,957.7 L546.7,956.2 L550.8,954.1 L554.8,953.7 L558.0,953.0 L561.3,954.1 L564.5,953.8 L567.8,952.7 L571.0,953.7 L574.8,954.9 L578.6,956.3 L582.4,956.2 L585.6,953.6 L588.9,951.3 L593.0,952.6 L597.0,954.6 L600.2,955.2 L603.5,956.4 L606.7,955.6 L610.0,956.1 L613.2,957.0 L616.5,954.7 L619.7,953.7 L623.8,956.0 L627.8,957.8 L631.4,958.5 L635.1,958.9 L638.8,960.0 L642.4,961.0 L645.6,959.5 L648.9,959.6 L652.1,959.4 L655.3,959.3 L658.6,957.4 L661.8,956.2 L665.4,956.0 L669.1,957.5 L672.8,956.5 L676.4,957.0 L679.6,958.5 L682.9,961.0 L686.1,959.1 L689.3,958.3 L692.6,957.4 L695.8,957.0 L699.0,957.3 L702.3,959.3 L705.5,958.9 L708.8,960.2 L712.0,961.1 L715.3,963.1 L718.5,964.3 L722.1,964.9 L725.8,963.5 L729.5,964.2 L733.1,963.5 L736.4,964.2 L739.6,965.6 L742.9,966.7 L746.1,967.5 L749.9,968.9 L753.6,969.1 L757.4,969.1 L761.5,968.3 L765.5,967.5 L768.7,968.7 L772.0,968.2 L775.2,968.8 L778.5,970.4 L781.7,970.0 L784.9,971.1 L788.1,972.1 L791.4,974.1 L794.6,974.6 L797.9,977.2 L801.1,977.8 L804.4,976.4 L807.6,974.5 L810.8,975.6 L814.0,978.6 L817.3,979.3 L820.5,981.0 L823.7,980.8 L827.0,980.8 L830.2,980.7 L833.5,981.0 L836.7,981.8 L839.9,983.0 L843.2,982.7 L846.4,983.8 L849.7,985.0 L852.9,985.9 L857.0,985.6 L861.0,985.1 L865.0,986.9 L869.1,989.1 L872.1,989.5 L875.2,988.2 L878.2,988.2 L881.3,988.2 L884.4,987.4 L887.4,987.3 L890.5,987.0 L893.5,987.5 L896.7,988.9 L900.0,988.8 L903.2,990.8 L906.5,990.9 L909.7,992.4 L912.7,992.1 L915.8,991.5 L918.8,990.3 L921.9,990.8 L924.9,989.7 L927.9,988.8 L931.0,987.2 L934.0,987.5 L938.0,988.9 L942.1,990.7 L945.3,989.8 L948.6,989.7 L951.8,990.1 L955.1,989.5 L958.3,988.3 L963.1,993.2 L966.9,990.7 L970.7,990.3 L974.5,988.3 L977.7,989.3 L981.0,988.7 L984.2,988.0 L987.5,989.7 L990.7,989.1 L993.9,990.1 L997.2,992.3 L1000.4,993.3 L1003.7,994.3 L1006.9,994.8 L1011.0,993.2 L1015.0,989.9 L1018.2,990.0 L1021.5,992.4 L1024.7,992.5 L1028.0,993.1 L1031.2,994.8 L1034.4,995.0 L1037.7,995.9 L1040.9,995.2 L1044.2,996.6 L1047.4,997.2 L1050.6,997.4 L1053.9,996.6 L1057.1,996.3 L1060.4,995.5 L1063.6,995.6 L1066.8,997.3 L1070.0,997.2 L1073.2,996.5 L1076.5,997.2 L1079.7,997.0 L1083.0,995.6 L1086.2,996.4 L1090.2,997.4 L1094.3,996.4 L1098.3,994.7 L1102.4,994.0 L1105.6,996.3 L1108.9,997.5 L1112.1,998.7 L1115.4,999.9 L1118.6,1000.5 L1121.8,1000.1 L1125.1,1000.1 L1128.3,999.7 L1131.6,1000.7 L1134.8,999.7 L1138.0,999.9 L1141.3,1001.2 L1144.5,1004.0 L1147.8,1004.8 L1151.0,1005.3 L1155.0,1005.3 L1159.1,1004.5 L1163.2,1004.2 L1167.2,1002.1 L1171.2,1002.9 L1175.3,1003.7 L1178.6,1003.6 L1181.8,1002.0 L1185.1,1001.3 L1188.9,1004.0 L1192.6,1004.2 L1196.4,1007.0 L1200.2,1005.8 L1204.0,1005.0 L1207.8,1003.7 L1211.0,1004.6 L1214.3,1004.2 L1217.5,1005.0 L1220.8,1005.9 L1224.0,1005.3 L1228.0,1007.6 L1232.1,1010.2 L1235.3,1009.4 L1238.6,1008.9 L1241.8,1010.4 L1245.1,1009.5 L1248.3,1009.4 L1252.1,1008.9 L1255.8,1008.9 L1259.6,1008.6 L1261.0,990.0 L1262.0,946.0 L1264.5,941.8 L1267.0,946.0 L1268.4,990.0 L1270.2,1007.8 L1273.8,1009.8 L1277.5,1013.4 L1281.5,1012.0 L1285.6,1011.8 L1289.4,1012.4 L1293.1,1013.5 L1296.9,1015.1 L1300.7,1016.6 L1304.4,1016.2 L1308.2,1017.5 L1313.1,1013.4 L1316.3,1014.5 L1319.6,1017.9 L1322.8,1019.1 L1326.5,1019.2 L1330.1,1018.2 L1333.8,1019.5 L1337.4,1019.1 L1341.5,1021.9 L1345.5,1024.0 L1348.8,1024.1 L1352.0,1024.1 L1355.2,1023.2 L1358.5,1023.2 L1362.0,1022.8 L1365.6,1024.0 L1369.1,1023.9 L1372.7,1024.2 L1376.2,1024.0 L1379.2,1024.0 L1382.3,1024.9 L1385.3,1026.2 L1388.3,1026.2 L1391.4,1027.2 L1394.4,1027.5 L1397.5,1028.7 L1400.5,1028.8 L1403.5,1028.7 L1406.6,1029.2 L1409.6,1030.1 L1412.7,1029.3 L1415.7,1029.2 L1418.7,1030.3 L1421.8,1029.6 L1424.8,1030.5 L1428.0,1030.4 L1431.3,1028.4 L1434.5,1028.8 L1437.8,1027.2 L1441.0,1027.8 L1444.3,1027.6 L1447.5,1028.9 L1450.7,1029.8 L1454.0,1029.9 L1457.2,1030.5 L1460.5,1031.3 L1463.7,1031.2 L1467.0,1032.9 L1470.2,1031.8 L1473.5,1032.9 L1476.7,1033.2 L1480.0,1031.3 L1483.2,1032.0 L1486.5,1030.8 L1489.7,1031.3 L1492.9,1030.6 L1496.2,1031.6 L1499.4,1032.3 L1502.7,1031.2 L1505.9,1031.5 L1509.1,1031.7 L1512.4,1032.1 L1515.6,1031.6 L1518.9,1031.7 L1522.1,1032.1 L1525.3,1033.0 L1528.6,1032.5 L1531.8,1032.3 L1535.1,1033.4 L1538.3,1033.9 L1541.5,1032.9 L1544.8,1032.3 L1548.0,1033.0 L1551.3,1034.3 L1554.5,1033.7 L1558.3,1032.5 L1562.2,1032.1 L1566.0,1032.2 L1569.3,1033.5 L1572.6,1032.9 L1575.9,1035.2 L1579.2,1034.7 L1582.5,1036.0 L1586.2,1035.4 L1590.0,1035.2 L1593.8,1036.9 L1597.6,1038.2 L1600.8,1037.4 L1604.0,1038.7 L1607.2,1038.1 L1610.5,1038.7 L1613.7,1038.7 L1616.9,1037.4 L1620.1,1038.2 L1623.1,1040.3 L1626.1,1041.8 L1629.1,1042.7 L1632.5,1041.3 L1635.8,1041.0 L1639.2,1039.3 L1642.6,1039.0 L1645.6,1039.1 L1648.6,1039.5 L1651.7,1038.8 L1654.7,1039.1 L1657.7,1039.0 L1660.7,1039.8 L1663.7,1042.7 L1666.7,1043.8 L1669.7,1045.0 L1672.7,1044.9 L1675.7,1042.7 L1678.7,1043.2 L1681.7,1041.2 L1684.7,1041.4 L1687.7,1040.5 L1690.7,1041.0 L1693.7,1043.4 L1696.7,1042.9 L1699.7,1044.7 L1702.7,1045.8 L1705.7,1045.9 L1708.7,1045.9 L1711.8,1045.3 L1714.8,1046.7 L1717.8,1046.5 L1720.8,1047.3 L1723.8,1045.9 L1726.8,1046.9 L1729.8,1045.6 L1732.8,1045.8 L1735.9,1045.2 L1738.9,1045.4 L1742.0,1046.3 L1745.1,1045.8 L1748.1,1045.4 L1751.2,1045.0" stroke="#808000" stroke-width="5.6" fill="none" stroke-linejoin="round" stroke-linecap="round" shape-rendering="crispEdges"/>
<g fill="#f00" shape-rendering="crispEdges"><rect x="403" y="1012" width="3" height="1.5"/><rect x="411" y="1014" width="2" height="2"/><rect x="419" y="1014" width="1" height="1"/><rect x="435" y="1008.2" width="9" height="1.5"/><rect x="443.5" y="1007.8" width="3.5" height="2.2"/><rect x="449" y="1003" width="2" height="1"/><rect x="453" y="1008" width="3" height="1.3"/></g>
<path d="M260,1080.5 L256.5,1082.5 L256.8,1088 L257.8,1092" stroke="#fff" stroke-width="3.2" fill="none"/>
<path d="M1748,1001 H1754 V1005 H1751.5 V1006.8 H1748 Z" fill="#fff"/>
<g style="font-family:'Liberation Serif','Times New Roman',serif;font-size:64px" fill="#000"><text x="690.4" y="809.0">1</text><text x="1552.5" y="938.9">2</text><text x="738.1" y="920.7">3</text><text x="862.2" y="1059.6">4</text><text x="1012.1" y="1012.0">5</text></g>
<rect x="720" y="53.5" width="893.5" height="388" fill="#fff"/>
<rect x="720" y="53.5" width="893.5" height="388" fill="none" stroke="#000" stroke-width="2.6"/>
<g style="font-family:'Liberation Serif','Times New Roman',serif;font-size:64px" fill="#000"><path d="M757,92.2 H901" stroke="#000" stroke-width="5" stroke-linecap="butt"/><path d="M901,92.2 H902" stroke="#000" stroke-width="5" stroke-linecap="round"/><text x="727.5" y="113.5">1</text><text x="918" y="113.5">304 steel</text><path d="M757,171.3 H901" stroke="#f00" stroke-width="5" stroke-linecap="butt"/><path d="M901,171.3 H902" stroke="#f00" stroke-width="5" stroke-linecap="round"/><text x="727.5" y="192.6">2</text><text x="918" y="192.6">Nitriding steel</text><path d="M757,249.7 H901" stroke="#00f" stroke-width="5" stroke-linecap="butt"/><path d="M901,249.7 H902" stroke="#00f" stroke-width="5" stroke-linecap="round"/><text x="727.5" y="271.0">3</text><text x="918" y="271.0">100 compund modification</text><path d="M757,327.6 H901" stroke="#f0f" stroke-width="5" stroke-linecap="butt"/><path d="M901,327.6 H902" stroke="#f0f" stroke-width="5" stroke-linecap="round"/><text x="727.5" y="348.9">4</text><text x="918" y="348.9">200 compund modification</text><path d="M757,405.9 H901" stroke="#808000" stroke-width="5" stroke-linecap="butt"/><path d="M901,405.9 H902" stroke="#808000" stroke-width="5" stroke-linecap="round"/><text x="727.5" y="427.2">5</text><text x="918" y="427.2">300 compund modification</text></g>
</svg>
</body></html>
